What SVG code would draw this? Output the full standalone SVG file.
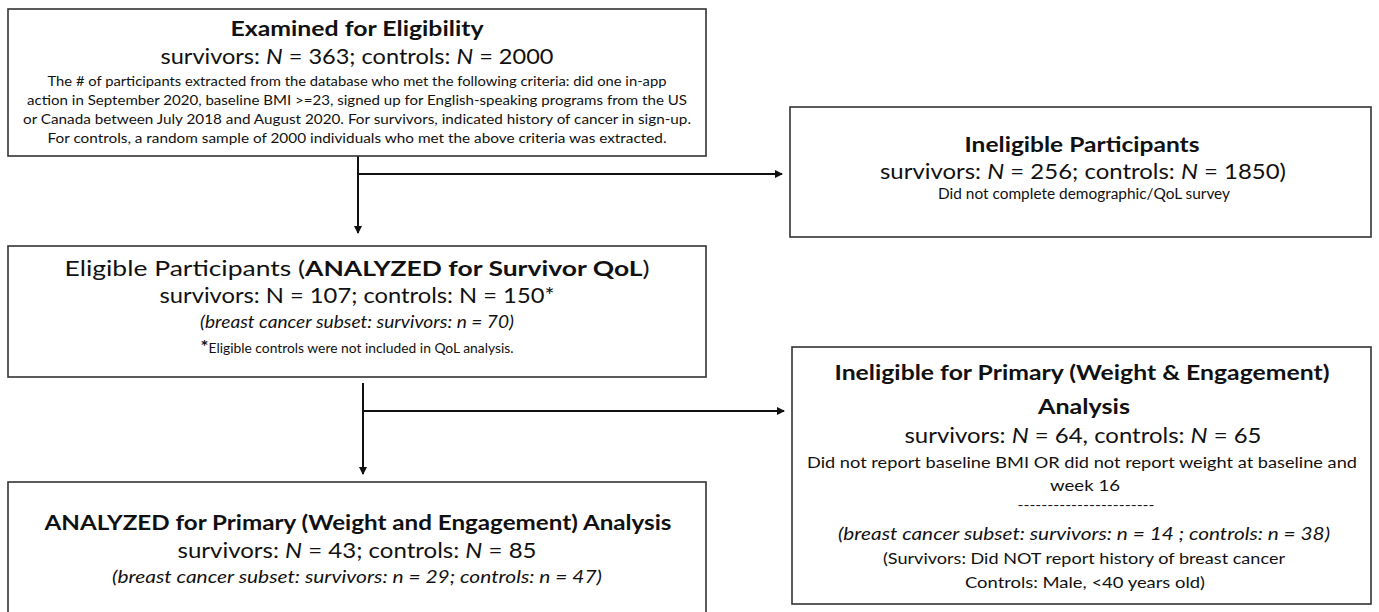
<svg xmlns="http://www.w3.org/2000/svg" width="1379" height="612" viewBox="0 0 1379 612">
<style>
.box{fill:#fff;stroke:#333;stroke-width:1.6}
text{font-family:Lato,"Open Sans","Liberation Sans",sans-serif;fill:#111;text-anchor:middle}
.t{font-size:21px;font-weight:bold}
.n{font-size:21px}
.s{font-size:14px}
.i{font-style:italic}
.b{font-weight:bold}
.c{stroke:#111;stroke-width:2;fill:none}
</style>
<defs>
<marker id="ah" markerWidth="8" markerHeight="8" refX="7" refY="4" orient="auto" markerUnits="userSpaceOnUse">
<path d="M0,0 L8,4 L0,8 Z" fill="#111"/>
</marker>
</defs>
<rect width="1379" height="612" fill="#fff"/>
<g id="connectors">
<path class="c" d="M358,156 V233" marker-end="url(#ah)"/>
<path class="c" d="M358,174 H782" marker-end="url(#ah)"/>
<path class="c" d="M363,383 V474" marker-end="url(#ah)"/>
<path class="c" d="M363,411 H784" marker-end="url(#ah)"/>
</g>
<g id="examined">
<rect class="box" x="8" y="9" width="698" height="147"/>
<text class="t" x="357" y="36" textLength="253" lengthAdjust="spacingAndGlyphs">Examined for Eligibility</text>
<text class="n" x="357" y="64" textLength="393" lengthAdjust="spacingAndGlyphs">survivors: <tspan class="i">N</tspan> = 363; controls: <tspan class="i">N</tspan> = 2000</text>
<text class="s" x="357" y="86" textLength="619" lengthAdjust="spacingAndGlyphs">The # of participants extracted from the database who met the following criteria: did one in-app</text>
<text class="s" x="357" y="105" textLength="660" lengthAdjust="spacingAndGlyphs">action in September 2020, baseline BMI &gt;=23, signed up for English-speaking programs from the US</text>
<text class="s" x="357" y="124" textLength="668" lengthAdjust="spacingAndGlyphs">or Canada between July 2018 and August 2020. For survivors, indicated history of cancer in sign-up.</text>
<text class="s" x="357" y="143" textLength="619" lengthAdjust="spacingAndGlyphs">For controls, a random sample of 2000 individuals who met the above criteria was extracted.</text>
</g>
<g id="ineligible">
<rect class="box" x="790" y="107" width="581" height="130"/>
<text class="t" x="1082" y="152" textLength="235" lengthAdjust="spacingAndGlyphs">Ineligible Participants</text>
<text class="n" x="1083" y="179" textLength="406" lengthAdjust="spacingAndGlyphs">survivors: <tspan class="i">N</tspan> = 256; controls: <tspan class="i">N</tspan> = 1850)</text>
<text class="s" x="1084" y="199" style="font-size:15.5px" textLength="292" lengthAdjust="spacingAndGlyphs">Did not complete demographic/QoL survey</text>
</g>
<g id="eligible">
<rect class="box" x="8" y="246" width="698" height="131"/>
<text class="n" x="357" y="276" textLength="585" lengthAdjust="spacingAndGlyphs">Eligible Participants (<tspan class="b">ANALYZED for Survivor QoL</tspan>)</text>
<text class="n" x="357" y="303" textLength="395" lengthAdjust="spacingAndGlyphs">survivors: N = 107; controls: N = 150*</text>
<text class="s i" x="357" y="328" style="font-size:17px" textLength="314" lengthAdjust="spacingAndGlyphs">(breast cancer subset: survivors: n = 70)</text>
<text x="357" y="353" style="font-size:12.5px" textLength="313" lengthAdjust="spacingAndGlyphs"><tspan class="b" style="font-size:17px">*</tspan>Eligible controls were not included in QoL analysis.</text>
</g>
<g id="ineligible-primary">
<rect class="box" x="792" y="347" width="579" height="257"/>
<text class="t" x="1082" y="380" textLength="495" lengthAdjust="spacingAndGlyphs">Ineligible for Primary (Weight &amp; Engagement)</text>
<text class="t" x="1084" y="414" textLength="92" lengthAdjust="spacingAndGlyphs">Analysis</text>
<text class="n" x="1083" y="443" textLength="357" lengthAdjust="spacingAndGlyphs">survivors: <tspan class="i">N</tspan> = 64, controls: <tspan class="i">N</tspan> = 65</text>
<text class="s" x="1082" y="468" style="font-size:16px" textLength="550" lengthAdjust="spacingAndGlyphs">Did not report baseline BMI OR did not report weight at baseline and</text>
<text class="s" x="1085" y="491" style="font-size:16px" textLength="70" lengthAdjust="spacingAndGlyphs">week 16</text>
<text class="s" x="1086" y="510" style="font-size:14px" textLength="137" lengthAdjust="spacingAndGlyphs">-----------------------</text>
<text class="s i" x="1084" y="540" style="font-size:17px" textLength="492" lengthAdjust="spacingAndGlyphs">(breast cancer subset: survivors: n = 14 ; controls: n = 38)</text>
<text class="s" x="1084" y="564" style="font-size:16px" textLength="402" lengthAdjust="spacingAndGlyphs">(Survivors: Did NOT report history of breast cancer</text>
<text class="s" x="1085" y="588" style="font-size:16px" textLength="240" lengthAdjust="spacingAndGlyphs">Controls: Male, &lt;40 years old)</text>
</g>
<g id="analyzed">
<rect class="box" x="8" y="482" width="698" height="140"/>
<text class="t" x="358" y="530" textLength="627" lengthAdjust="spacingAndGlyphs">ANALYZED for Primary (Weight and Engagement) Analysis</text>
<text class="n" x="357" y="558" textLength="359" lengthAdjust="spacingAndGlyphs">survivors: <tspan class="i">N</tspan> = 43; controls: <tspan class="i">N</tspan> = 85</text>
<text class="s i" x="357" y="583" style="font-size:17px" textLength="490" lengthAdjust="spacingAndGlyphs">(breast cancer subset: survivors: n = 29; controls: n = 47)</text>
</g>
</svg>
